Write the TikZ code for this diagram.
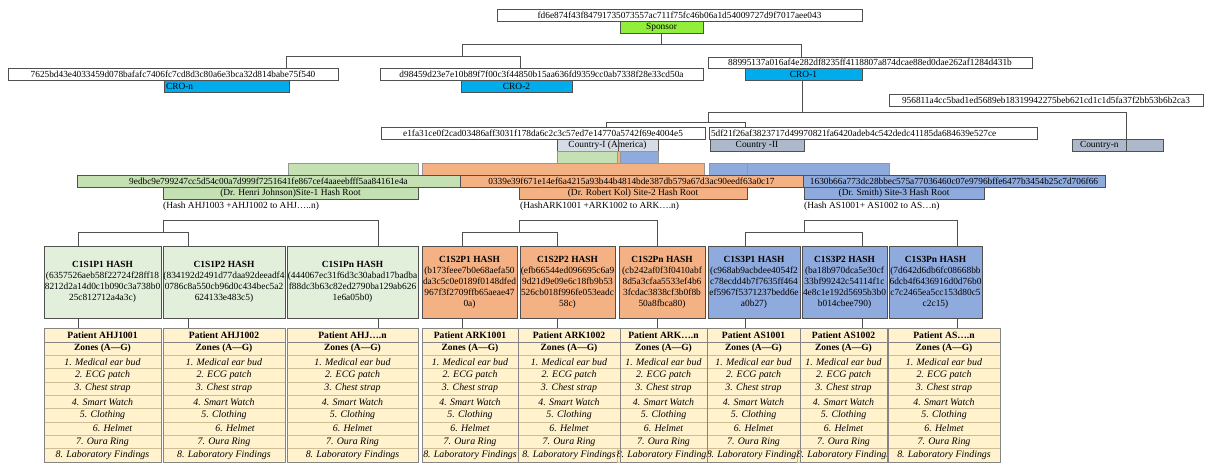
\documentclass[tikz,border=0pt]{standalone}
\usepackage{fontspec}
\setmainfont{Liberation Serif}
\definecolor{lime}{RGB}{146,238,60}
\definecolor{crob}{RGB}{0,172,236}
\definecolor{sgl}{RGB}{226,239,218}
\definecolor{sgm}{RGB}{197,224,178}
\definecolor{sor}{RGB}{244,177,131}
\definecolor{sbl}{RGB}{143,170,220}
\definecolor{cty1}{RGB}{214,220,229}
\definecolor{cty2}{RGB}{173,185,202}
\definecolor{cream}{RGB}{255,242,204}
\definecolor{lnc}{RGB}{80,80,80}
\definecolor{rowl}{RGB}{205,190,150}
\newcommand{\hs}{\fontsize{9.3}{11}\selectfont}
\newcommand{\ls}{\fontsize{9.4}{11}\selectfont}
\newcommand{\mybox}[7][]{%
  \pgfmathsetmacro\myw{#5-#3}\pgfmathsetmacro\myh{#6-#4}%
  \node[hb,#1,minimum width=\myw pt,minimum height=\myh pt] (#2) at ({(#3+#5)/2},{(#4+#6)/2}) {#7};}
\newcommand{\ptable}[5]{%
  \pgfmathsetmacro\myw{#3-#2}\pgfmathsetmacro\mc{(#2+#3)/2}%
  \fill[cream] (#2,328) rectangle (#3,462);
  \node[thead,minimum width=\myw pt] (#1) at (\mc,335) {#4};
  \node[tzone,minimum width=\myw pt] (#1z) at (\mc,348.5) {Zones (A—G)};
  \foreach \t [count=\i] in {1. Medical ear bud,2. ECG patch,3. Chest strap,4. Smart Watch,5. Clothing,6. Helmet,7. Oura Ring,8. Laboratory Findings}{
    \node[titem,minimum width=\myw pt] (#1r\i) at (\mc,{355+13.375*(\i-0.5)}) {\ifnum\i=6\hspace*{#5pt}\fi\t};
  }
  \draw[lnc!70,line width=0.7pt] (#2,328) rectangle (#3,462);
}
\begin{document}
\begin{tikzpicture}[x=1pt,y=-1pt,
  hb/.style={draw=lnc,line width=0.6pt,fill=white,inner sep=0pt,font=\hs,align=center},
  conn/.style={draw=lnc,line width=0.7pt},
  strip/.style={draw=lnc!60,line width=0.4pt},
  thead/.style={draw=lnc!70,fill=cream,line width=0.6pt,inner sep=0pt,minimum height=14pt,font=\fontsize{9.6}{12}\selectfont\bfseries},
  tzone/.style={draw=lnc!70,fill=cream,line width=0.6pt,inner sep=0pt,minimum height=13pt,font=\fontsize{9.5}{10}\selectfont\bfseries},
  titem/.style={draw=rowl,fill=cream,line width=0.4pt,inner sep=0pt,minimum height=13.375pt,font=\fontsize{9.9}{10}\selectfont\itshape},
  leafbox/.style={align=center,font=\ls}]
\useasboundingbox (0,0) rectangle (1206,464);
\fill[white] (0,0) rectangle (1206,464);

% top levels
\mybox{sph}{497}{9}{862}{21}{fd6e874f43f84791735073557ac711f75fc46b06a1d54009727d9f7017aee043}
\mybox[fill=lime,font=\ls]{sp}{620}{21}{703}{33}{Sponsor}
\mybox{cronh}{8}{68}{338}{80}{7625bd43e4033459d078bafafc7406fc7cd8d3c80a6e3bca32d814babe75f540}
\mybox[fill=crob,font=\ls,text width=121pt,align=left]{cron}{164}{80}{289}{92}{CRO-n}
\mybox{cro2h}{380}{68}{703}{80}{d98459d23e7e10b89f7f00c3f44850b15aa636fd9359cc0ab7338f28e33cd50a}
\mybox[fill=crob,font=\ls]{cro2}{461}{80}{572}{92}{CRO-2}
\mybox{cro1h}{708}{57}{1032}{68}{88995137a016af4e282df8235ff4118807a874dcae88ed0dae262af1284d431b}
\mybox[fill=crob,font=\ls]{cro1}{745}{68}{862}{80}{CRO-1}
\mybox{cnh}{889}{94}{1203}{106}{956811a4cc5bad1ed5689eb18319942275beb621cd1c1d5fa37f2bb53b6b2ca3}
\mybox{c1h}{381}{127}{705}{139}{e1fa31ce0f2cad03486aff3031f178da6c2c3c57ed7e14770a5742f69e4004e5}
\mybox[text width=324pt,align=left]{c2h}{709}{127}{1037}{139}{5df21f26af3823717d49970821fa6420adeb4c542dedc41185da684639e527ce}
\mybox[fill=cty1,font=\ls]{c1}{557}{139}{658}{151}{Country-I (America)}
\mybox[fill=cty2,font=\ls]{c2}{710}{139}{804}{151}{Country -II}
\mybox[fill=cty2,font=\ls,text width=87pt,align=left]{cn}{1072}{139}{1163}{151}{\hspace*{6pt}Country-n}

% connectors top
\coordinate (jA) at (462,44); \coordinate (jB) at (801,44);
\coordinate (jL) at (286,56); \coordinate (jR) at (520,56);
\draw[conn] (sp.south) -- (sp.south |- jA);
\draw[conn] (jA) -- (jB) -- (jB |- cro1h.north);
\draw[conn] (jA) -- (jA |- jL);
\draw[conn] (jL) -- (jR);
\draw[conn] (jL) -- (jL |- cronh.north);
\draw[conn] (jR) -- (jR |- cro2h.north);
\coordinate (k0) at (802,112); \coordinate (kL) at (708,112); \coordinate (kR) at (1126,112);
\coordinate (m0) at (708,122); \coordinate (mL) at (606,122); \coordinate (mR) at (745,122);
\draw[conn] (k0 |- cro1.south) -- (k0);
\draw[conn] (kL) -- (kR) -- (kR |- cn.south);
\draw[conn] (kL) -- (m0);
\draw[conn] (mL) -- (mR);
\draw[conn] (mL) -- (mL |- c1h.north);
\draw[conn] (mR) -- (mR |- c2h.north);

% coloured strips
\filldraw[strip,fill=sgm] (557,151) rectangle (617,163);
\filldraw[strip,fill=sor] (617,151) rectangle (620,163);
\filldraw[strip,fill=sbl] (620,151) rectangle (658,163);
\draw[conn] (618,139) -- (618,151);
\filldraw[strip,fill=sgm] (288,163) rectangle (418,175);
\filldraw[strip,fill=sor] (422,163) rectangle (704,175);
\filldraw[strip,fill=sbl] (709,163) rectangle (747,175);
\filldraw[strip,fill=sbl] (747,163) rectangle (889,175);

% site hash roots
\mybox[fill=sgm]{s1h}{77}{175}{460}{187}{9edbc9e799247cc5d54c00a7d999f7251641fe867cef4aaeebfff5aa84161e4a}
\mybox[fill=sor]{s2h}{460}{175}{803}{187}{0339e39f671e14ef6a4215a93b44b4814bde387db579a67d3ac90eedf63a0c17}
\mybox[fill=sbl]{s3h}{803}{175}{1105}{187}{1630b66a773dc28bbec575a77036460c07e9796bffe6477b3454b25c7d706f66}
\mybox[fill=sgm,font=\ls]{s1l}{163}{187}{418}{199}{(Dr. Henri Johnson)Site-1 Hash Root}
\mybox[fill=sor,font=\ls]{s2l}{519}{187}{747}{199}{(Dr. Robert Kol) Site-2 Hash Root}
\mybox[fill=sbl,font=\ls]{s3l}{804}{187}{984}{199}{(Dr. Smith) Site-3 Hash Root}
\node[anchor=west,font=\ls,inner sep=0pt] (n1) at (163,206) {(Hash AHJ1003 +AHJ1002 to AHJ…..n)};
\node[anchor=west,font=\ls,inner sep=0pt] (n2) at (520,206) {(HashARK1001 +ARK1002 to ARK….n)};
\node[anchor=west,font=\ls,inner sep=0pt] (n3) at (804,206) {(Hash AS1001+ AS1002 to AS…n)};

% leaf hash boxes
\mybox[fill=sgl,leafbox]{p11}{44}{246}{161}{318}{\textbf{C1S1P1 HASH}\\(6357526aeb58f22724f28ff18\\8212d2a14d0c1b090c3a738b0\\25c812712a4a3c)}
\mybox[fill=sgl,leafbox]{p12}{163}{246}{285}{318}{\textbf{C1S1P2 HASH}\\(834192d2491d77daa92deeadf4\\0786c8a550cb96d0c434bec5a2\\624133e483c5)}
\mybox[fill=sgl,leafbox]{p1n}{287}{246}{418}{318}{\textbf{C1S1Pn HASH}\\(444067ec31f6d3c30abad17badba\\f88dc3b63c82ed2790ba129ab626\\1e6a05b0)}
\mybox[fill=sor,leafbox]{p21}{422}{246}{517}{318}{\textbf{C1S2P1 HASH}\\(b173feee7b0e68aefa50\\da3c5c0e0189f0148dfed\\967f3f2709ffb65aeae47\\0a)}
\mybox[fill=sor,leafbox]{p22}{520}{246}{615}{318}{\textbf{C1S2P2 HASH}\\(efb66544ed096695c6a9\\9d21d9e09e6c18fb9b53\\526cb018f996fe053eadc\\58c)}
\mybox[fill=sor,leafbox]{p2n}{619}{246}{705}{318}{\textbf{C1S2Pn HASH}\\(cb242af0f3f0410abf\\8d5a3cfaa5533ef4b6\\3fcdac3838cf3b0f8b\\50a8fbca80)}
\mybox[fill=sbl,leafbox]{p31}{708}{246}{800}{318}{\textbf{C1S3P1 HASH}\\(c968ab9acbdee4054f2\\c78ecdd4b7f7635ff464\\ef5967f5371237bedd6e\\a0b27)}
\mybox[fill=sbl,leafbox]{p32}{802}{246}{887}{318}{\textbf{C1S3P2 HASH}\\(ba18b970dca5e30cf\\33bf99242c54114f1c\\4e8c1e192d5695b3b0\\b014cbee790)}
\mybox[fill=sbl,leafbox]{p3n}{889}{246}{982}{318}{\textbf{C1S3Pn HASH}\\(7d642d6db6fc08668bb\\6dcb4f6436916d0d76b0\\c7c2465ea5cc153d80c5\\c2c15)}

% patient tables
\ptable{t11}{44}{161}{Patient AHJ1001}{20}
\ptable{t12}{163}{285}{Patient AHJ1002}{22}
\ptable{t1n}{287}{418}{Patient AHJ….n}{0}
\ptable{t21}{422}{518}{Patient ARK1001}{0}
\ptable{t22}{518}{620}{Patient ARK1002}{0}
\ptable{t2n}{620}{707}{Patient ARK….n}{0}
\ptable{t31}{707}{800}{Patient AS1001}{0}
\ptable{t32}{800}{887}{Patient AS1002}{0}
\ptable{t3n}{888}{1000}{Patient AS….n}{0}

% brackets to leaf boxes
\coordinate (q1) at (163,220); \coordinate (q2) at (378,220);
\draw[conn] (q1) -- (163,232); \draw[conn] (78,232) -- (188,232);
\draw[conn] (q1) -- (q2) -- (q2 |- p1n.north);
\foreach \a in {78,188}{\draw[conn] (\a,232) -- (\a,246);}
\coordinate (r1) at (519,220); \coordinate (r2) at (657,220);
\draw[conn] (r1) -- (r2) -- (r2 |- p2n.north);
\draw[conn] (r1) -- (519,232); \draw[conn] (462,232) -- (557,232);
\foreach \a in {462,557}{\draw[conn] (\a,232) -- (\a,246);}
\coordinate (u1) at (804,220); \coordinate (u2) at (957,220);
\draw[conn] (u1) -- (u2) -- (u2 |- p3n.north);
\draw[conn] (u1) -- (804,232); \draw[conn] (745,232) -- (862,232);
\foreach \a in {745,862}{\draw[conn] (\a,232) -- (\a,246);}

% leaf to tables
\foreach \a/\p/\t in {78/p11/t11,188/p12/t12,378/p1n/t1n,462/p21/t21,557/p22/t22,657/p2n/t2n,745/p31/t31,862/p32/t32,957/p3n/t3n}{
  \draw[conn] (\p.south -| \a,0) -- (\t.north -| \a,0);
}
\end{tikzpicture}
\end{document}
